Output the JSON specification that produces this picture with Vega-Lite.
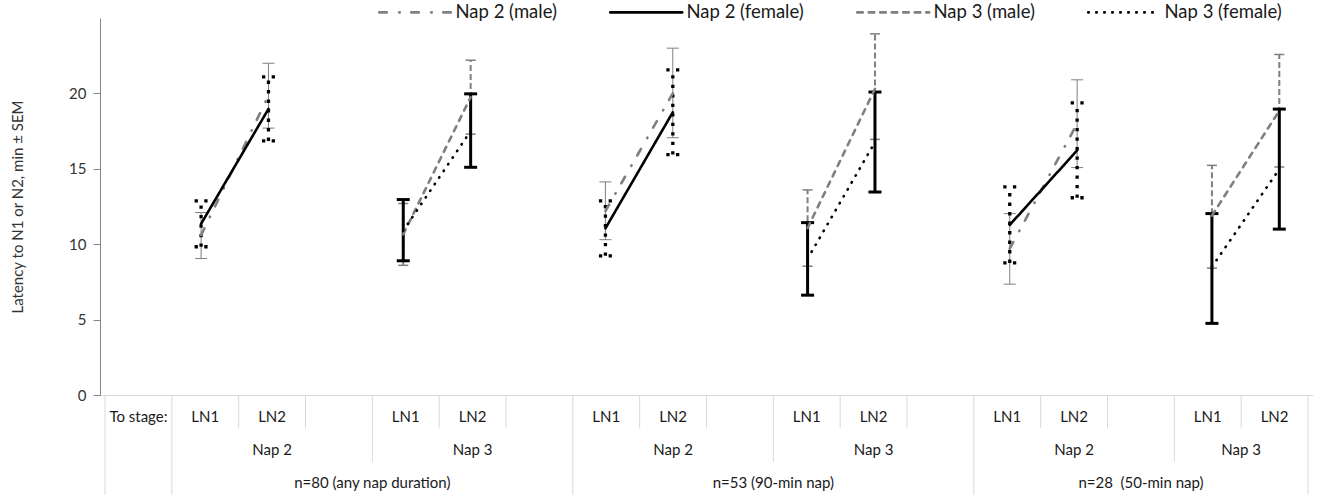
{
  "$schema": "https://vega.github.io/schema/vega-lite/v6.json",
  "background": "white",
  "padding": {"left": 10, "top": 3, "right": 4, "bottom": 3},
  "bounds": "flush",
  "spacing": 0,
  "config": {"view": {"stroke": null}, "font": "Lato"},
  "datasets": {
    "points": [
      {"group": "n=80", "series": "Nap 2 (male)", "stage": "LN1", "slot": 1, "mean": 10.6, "lo": 9.05, "hi": 12.1},
      {"group": "n=80", "series": "Nap 2 (male)", "stage": "LN2", "slot": 2, "mean": 19.85, "lo": 17.7, "hi": 22.0},
      {"group": "n=80", "series": "Nap 2 (female)", "stage": "LN1", "slot": 1, "mean": 11.35, "lo": 9.83, "hi": 12.87},
      {"group": "n=80", "series": "Nap 2 (female)", "stage": "LN2", "slot": 2, "mean": 18.97, "lo": 16.85, "hi": 21.1},
      {"group": "n=80", "series": "Nap 3 (male)", "stage": "LN1", "slot": 4, "mean": 10.65, "lo": 8.6, "hi": 12.7},
      {"group": "n=80", "series": "Nap 3 (male)", "stage": "LN2", "slot": 5, "mean": 19.75, "lo": 17.3, "hi": 22.2},
      {"group": "n=80", "series": "Nap 3 (female)", "stage": "LN1", "slot": 4, "mean": 10.9, "lo": 8.9, "hi": 12.96},
      {"group": "n=80", "series": "Nap 3 (female)", "stage": "LN2", "slot": 5, "mean": 17.5, "lo": 15.1, "hi": 19.97},
      {"group": "n=53", "series": "Nap 2 (male)", "stage": "LN1", "slot": 7, "mean": 12.2, "lo": 10.3, "hi": 14.13},
      {"group": "n=53", "series": "Nap 2 (male)", "stage": "LN2", "slot": 8, "mean": 20.0, "lo": 17.06, "hi": 23.0},
      {"group": "n=53", "series": "Nap 2 (female)", "stage": "LN1", "slot": 7, "mean": 11.05, "lo": 9.23, "hi": 12.87},
      {"group": "n=53", "series": "Nap 2 (female)", "stage": "LN2", "slot": 8, "mean": 18.75, "lo": 15.94, "hi": 21.56},
      {"group": "n=53", "series": "Nap 3 (male)", "stage": "LN1", "slot": 10, "mean": 11.07, "lo": 8.54, "hi": 13.6},
      {"group": "n=53", "series": "Nap 3 (male)", "stage": "LN2", "slot": 11, "mean": 20.3, "lo": 16.95, "hi": 23.95},
      {"group": "n=53", "series": "Nap 3 (female)", "stage": "LN1", "slot": 10, "mean": 9.03, "lo": 6.62, "hi": 11.43},
      {"group": "n=53", "series": "Nap 3 (female)", "stage": "LN2", "slot": 11, "mean": 16.77, "lo": 13.46, "hi": 20.09},
      {"group": "n=28", "series": "Nap 2 (male)", "stage": "LN1", "slot": 13, "mean": 9.7, "lo": 7.35, "hi": 12.03},
      {"group": "n=28", "series": "Nap 2 (male)", "stage": "LN2", "slot": 14, "mean": 18.0, "lo": 15.08, "hi": 20.9},
      {"group": "n=28", "series": "Nap 2 (female)", "stage": "LN1", "slot": 13, "mean": 11.28, "lo": 8.76, "hi": 13.8},
      {"group": "n=28", "series": "Nap 2 (female)", "stage": "LN2", "slot": 14, "mean": 16.22, "lo": 13.08, "hi": 19.37},
      {"group": "n=28", "series": "Nap 3 (male)", "stage": "LN1", "slot": 16, "mean": 11.9, "lo": 8.41, "hi": 15.23},
      {"group": "n=28", "series": "Nap 3 (male)", "stage": "LN2", "slot": 17, "mean": 18.85, "lo": 15.12, "hi": 22.58},
      {"group": "n=28", "series": "Nap 3 (female)", "stage": "LN1", "slot": 16, "mean": 8.5, "lo": 4.75, "hi": 12.03},
      {"group": "n=28", "series": "Nap 3 (female)", "stage": "LN2", "slot": 17, "mean": 14.98, "lo": 11.0, "hi": 18.96}
    ],
    "seps": [
      {"edge": -0.5, "span": 3}, {"edge": 0.5, "span": 3}, {"edge": 1.5, "span": 1}, {"edge": 2.5, "span": 1},
      {"edge": 3.5, "span": 2}, {"edge": 4.5, "span": 1}, {"edge": 5.5, "span": 1}, {"edge": 6.5, "span": 3},
      {"edge": 7.5, "span": 1}, {"edge": 8.5, "span": 1}, {"edge": 9.5, "span": 2}, {"edge": 10.5, "span": 1},
      {"edge": 11.5, "span": 1}, {"edge": 12.5, "span": 3}, {"edge": 13.5, "span": 1}, {"edge": 14.5, "span": 1},
      {"edge": 15.5, "span": 2}, {"edge": 16.5, "span": 1}, {"edge": 17.5, "span": 3}
    ],
    "labels": [
      {"at": 0, "row": 1, "label": "To stage:"},
      {"at": 1, "row": 1, "label": "LN1"}, {"at": 2, "row": 1, "label": "LN2"},
      {"at": 4, "row": 1, "label": "LN1"}, {"at": 5, "row": 1, "label": "LN2"},
      {"at": 7, "row": 1, "label": "LN1"}, {"at": 8, "row": 1, "label": "LN2"},
      {"at": 10, "row": 1, "label": "LN1"}, {"at": 11, "row": 1, "label": "LN2"},
      {"at": 13, "row": 1, "label": "LN1"}, {"at": 14, "row": 1, "label": "LN2"},
      {"at": 16, "row": 1, "label": "LN1"}, {"at": 17, "row": 1, "label": "LN2"},
      {"at": 2, "row": 2, "label": "Nap 2"}, {"at": 5, "row": 2, "label": "Nap 3"},
      {"at": 8, "row": 2, "label": "Nap 2"}, {"at": 11, "row": 2, "label": "Nap 3"},
      {"at": 14, "row": 2, "label": "Nap 2"}, {"at": 16.5, "row": 2, "label": "Nap 3"},
      {"at": 3.5, "row": 3, "label": "n=80 (any nap duration)"},
      {"at": 9.5, "row": 3, "label": "n=53 (90-min nap)"},
      {"at": 15, "row": 3, "label": "n=28\u00a0 (50-min nap)"}
    ]
  },
  "vconcat": [
    {
      "width": 1213,
      "height": 377,
      "data": {"name": "points"},
      "encoding": {
        "x": {"field": "slot", "type": "quantitative", "scale": {"domain": [-0.5, 17.5], "nice": false, "zero": false},
              "axis": {"labels": false, "ticks": false, "grid": false, "title": null, "domainColor": "#d9d9d9"}}
      },
      "layer": [
        {
          "transform": [{"filter": {"field": "series", "equal": "Nap 2 (male)"}}],
          "layer": [
            {"mark": {"type": "rule", "color": "#7f7f7f", "strokeWidth": 1},
             "encoding": {"y": {"field": "lo", "type": "quantitative", "title": "Latency to N1 or N2, min ± SEM", "scale": {"domain": [0, 25], "nice": false},
                                "axis": {"values": [0, 5, 10, 15, 20], "grid": false, "domainColor": "#868686", "tickColor": "#868686", "tickSize": 7, "labelPadding": 7, "labelFont": "Lato", "labelFontSize": 15, "labelColor": "#333333", "titleFont": "Lato", "titleFontSize": 15, "titleFontWeight": "normal", "titleColor": "#333333", "titlePadding": 43}},
                          "y2": {"field": "hi"}}},
            {"mark": {"type": "rule", "color": "#7f7f7f", "strokeWidth": 1, "xOffset": -6, "x2Offset": 6},
             "encoding": {"y": {"field": "lo", "type": "quantitative", "title": "Latency to N1 or N2, min ± SEM"}, "x2": {"field": "slot"}}},
            {"mark": {"type": "rule", "color": "#7f7f7f", "strokeWidth": 1, "xOffset": -6, "x2Offset": 6},
             "encoding": {"y": {"field": "hi", "type": "quantitative", "title": "Latency to N1 or N2, min ± SEM"}, "x2": {"field": "slot"}}}
          ]
        },
        {
          "transform": [{"filter": {"field": "series", "equal": "Nap 3 (male)"}}],
          "layer": [
            {"mark": {"type": "rule", "color": "#7f7f7f", "strokeWidth": 2, "strokeDash": [6, 3]},
             "encoding": {"y": {"field": "lo", "type": "quantitative", "title": "Latency to N1 or N2, min ± SEM"}, "y2": {"field": "hi"}}},
            {"mark": {"type": "rule", "color": "#7f7f7f", "strokeWidth": 1.5, "xOffset": -5, "x2Offset": 5},
             "encoding": {"y": {"field": "lo", "type": "quantitative", "title": "Latency to N1 or N2, min ± SEM"}, "x2": {"field": "slot"}}},
            {"mark": {"type": "rule", "color": "#7f7f7f", "strokeWidth": 1.5, "xOffset": -5, "x2Offset": 5},
             "encoding": {"y": {"field": "hi", "type": "quantitative", "title": "Latency to N1 or N2, min ± SEM"}, "x2": {"field": "slot"}}}
          ]
        },
        {
          "transform": [{"filter": {"field": "series", "equal": "Nap 3 (female)"}}],
          "layer": [
            {"mark": {"type": "rule", "color": "#000000", "strokeWidth": 3},
             "encoding": {"y": {"field": "lo", "type": "quantitative", "title": "Latency to N1 or N2, min ± SEM"}, "y2": {"field": "hi"}}},
            {"mark": {"type": "rule", "color": "#000000", "strokeWidth": 3, "xOffset": -6.5, "x2Offset": 6.5},
             "encoding": {"y": {"field": "lo", "type": "quantitative", "title": "Latency to N1 or N2, min ± SEM"}, "x2": {"field": "slot"}}},
            {"mark": {"type": "rule", "color": "#000000", "strokeWidth": 3, "xOffset": -6.5, "x2Offset": 6.5},
             "encoding": {"y": {"field": "hi", "type": "quantitative", "title": "Latency to N1 or N2, min ± SEM"}, "x2": {"field": "slot"}}}
          ]
        },
        {
          "transform": [{"filter": {"field": "series", "equal": "Nap 2 (female)"}}],
          "layer": [
            {"mark": {"type": "rule", "color": "#000000", "strokeWidth": 3.3, "strokeDash": [3.3, 6.2]},
             "encoding": {"y": {"field": "lo", "type": "quantitative", "title": "Latency to N1 or N2, min ± SEM"}, "y2": {"field": "hi"}}},
            {"mark": {"type": "rule", "color": "#000000", "strokeWidth": 3.3, "strokeDash": [3.3, 6.4], "xOffset": -6.5, "x2Offset": 6.5},
             "encoding": {"y": {"field": "lo", "type": "quantitative", "title": "Latency to N1 or N2, min ± SEM"}, "x2": {"field": "slot"}}},
            {"mark": {"type": "rule", "color": "#000000", "strokeWidth": 3.3, "strokeDash": [3.3, 6.4], "xOffset": -6.5, "x2Offset": 6.5},
             "encoding": {"y": {"field": "hi", "type": "quantitative", "title": "Latency to N1 or N2, min ± SEM"}, "x2": {"field": "slot"}}}
          ]
        },
        {
          "mark": {"type": "line", "strokeWidth": 2.6, "strokeCap": "round"},
          "encoding": {
            "y": {"field": "mean", "type": "quantitative", "title": "Latency to N1 or N2, min ± SEM"},
            "detail": {"field": "group", "type": "nominal"},
            "color": {"field": "series", "type": "nominal",
                      "scale": {"domain": ["Nap 2 (male)", "Nap 2 (female)", "Nap 3 (male)", "Nap 3 (female)"], "range": ["#7f7f7f", "#000000", "#7f7f7f", "#000000"]},
                      "legend": {"title": null, "orient": "none", "legendX": 306, "legendY": -15, "direction": "horizontal", "columns": 4, "symbolType": "M-5,0H5", "symbolSize": 207.36, "symbolStrokeWidth": 2.6, "labelFont": "Lato", "labelFontSize": 18.5, "labelColor": "#1a1a1a", "columnPadding": 48, "labelOffset": 31, "encode": {"symbols": {"update": {"strokeCap": {"value": "round"}}}}}},
            "strokeDash": {"field": "series", "type": "nominal",
                      "scale": {"domain": ["Nap 2 (male)", "Nap 2 (female)", "Nap 3 (male)", "Nap 3 (female)"], "range": [[7.5, 12.5, 0.5, 11.5], [1, 0], [5.5, 6], [0.5, 7.5]]},
                      "legend": {"title": null, "orient": "none", "legendX": 306, "legendY": -15, "direction": "horizontal", "columns": 4, "symbolType": "M-5,0H5", "symbolSize": 207.36, "symbolStrokeWidth": 2.6, "labelFont": "Lato", "labelFontSize": 18.5, "labelColor": "#1a1a1a", "columnPadding": 48, "labelOffset": 31, "encode": {"symbols": {"update": {"strokeCap": {"value": "round"}}}}}}
          }
        }
      ]
    },
    {
      "width": 1213,
      "height": 100,
      "layer": [
        {
          "data": {"name": "seps"},
          "mark": {"type": "bar", "color": "#d9d9d9", "width": 1, "orient": "vertical"},
          "encoding": {
            "x": {"field": "edge", "type": "quantitative", "scale": {"domain": [-0.5, 17.5], "nice": false, "zero": false}, "axis": null},
            "y": {"field": "span", "type": "quantitative", "stack": null, "scale": {"domain": [0, 3], "reverse": true, "nice": false, "zero": true}, "axis": null}
          }
        },
        {
          "data": {"name": "labels"},
          "mark": {"type": "text", "font": "Lato", "fontSize": 15, "color": "#1a1a1a", "baseline": "middle", "dy": 5},
          "encoding": {
            "x": {"field": "at", "type": "quantitative", "scale": {"domain": [-0.5, 17.5], "nice": false, "zero": false}, "axis": null},
            "y": {"field": "row", "type": "ordinal", "scale": {"type": "band", "paddingInner": 0, "paddingOuter": 0}, "axis": null},
            "text": {"field": "label"}
          }
        }
      ],
      "resolve": {"scale": {"y": "independent"}}
    }
  ]
}
